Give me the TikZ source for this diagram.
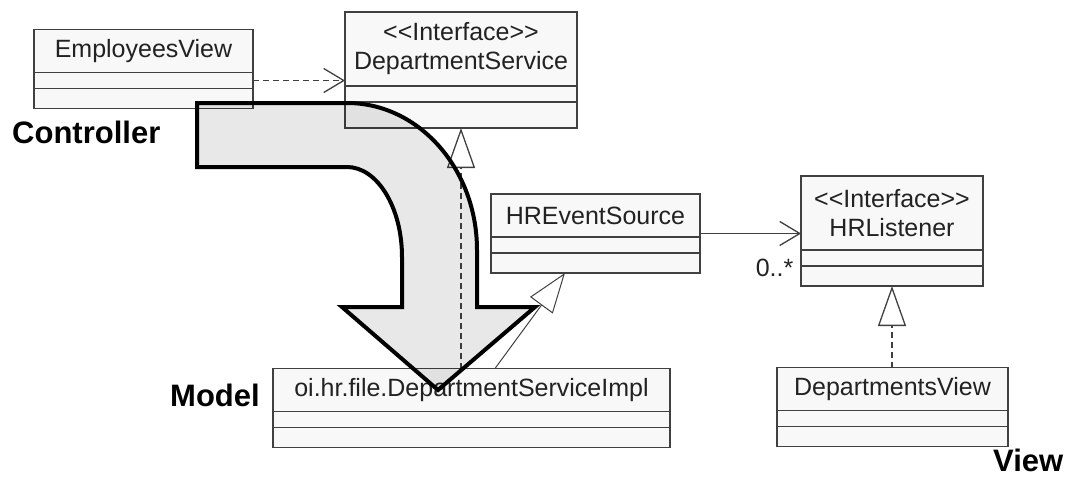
\documentclass[tikz,border=0pt]{standalone}
\usepackage{fontspec}
\setmainfont{Liberation Sans}
\usetikzlibrary{positioning, arrows.meta}

\definecolor{boxline}{HTML}{404040}
\definecolor{boxfill}{HTML}{F8F8F8}
\definecolor{umltext}{HTML}{222222}

\newcommand{\umlfont}{\fontsize{25}{29}\selectfont\color{umltext}}
\newcommand{\tierfont}{\fontsize{31}{36}\selectfont\bfseries}
\newcommand{\stereo}[1]{<{}<#1>{}>}

\begin{document}
\begin{tikzpicture}[
  x=1pt, y=-1pt,
  node distance=0pt,
  cls/.style={draw=boxline, fill=boxfill, line width=1.3pt, inner sep=0pt, outer sep=0pt, minimum height=43pt, align=center, font=\umlfont},
  iface/.style={cls, minimum height=74pt},
  attrs/.style={draw=boxline, fill=boxfill, line width=1.3pt, inner sep=0pt, outer sep=0pt, minimum height=16pt},
  ops/.style={attrs, minimum height=20pt},
  tier/.style={anchor=base west, inner sep=0pt, font=\tierfont},
  depends/.style={-{Straight Barb[length=20pt, width=24pt]}, dash pattern=on 6pt off 4pt, line width=1.3pt, draw=boxline},
  assoc/.style={-{Straight Barb[length=20pt, width=24pt]}, line width=1.3pt, draw=boxline},
  realizes/.style={-{Triangle[open, length=40pt, width=28pt]}, dash pattern=on 6pt off 4pt, line width=1.3pt, draw=boxline},
  inherits/.style={-{Triangle[open, length=40pt, width=28pt]}, line width=1pt, draw=boxline}
]
\useasboundingbox (0,0) rectangle (1066,477);

% Classes (name, attributes, operations)
\node[cls, minimum width=219pt] (emp) at (143.5,51) {EmployeesView};
\node[attrs, minimum width=219pt, below=of emp] (emp-attr) {};
\node[ops, minimum width=219pt, below=of emp-attr] (emp-ops) {};

\node[iface, minimum width=232pt] (dep) at (461,49) {\stereo{Interface}\\DepartmentService};
\node[attrs, minimum width=232pt, below=of dep] (dep-attr) {};
\node[ops, minimum width=232pt, minimum height=26pt, below=of dep-attr] (dep-ops) {};

\node[cls, minimum width=209pt] (hres) at (595.5,215.5) {HREventSource};
\node[attrs, minimum width=209pt, below=of hres] (hres-attr) {};
\node[ops, minimum width=209pt, below=of hres-attr] (hres-ops) {};

\node[iface, minimum width=182pt] (hrl) at (892,213) {\stereo{Interface}\\HRListener};
\node[attrs, minimum width=182pt, below=of hrl] (hrl-attr) {};
\node[ops, minimum width=182pt, below=of hrl-attr] (hrl-ops) {};

\node[cls, minimum width=397pt] (impl) at (471.5,390) {oi.hr.file.DepartmentServiceImpl};
\node[attrs, minimum width=397pt, below=of impl] (impl-attr) {};
\node[ops, minimum width=397pt, below=of impl-attr] (impl-ops) {};

\node[cls, minimum width=231pt] (dview) at (892.5,389) {DepartmentsView};
\node[attrs, minimum width=231pt, below=of dview] (dview-attr) {};
\node[ops, minimum width=231pt, below=of dview-attr] (dview-ops) {};

% Relations
\draw[depends] (emp-attr.east) -- (emp-attr.east -| dep.west);
\draw[realizes] (dep-ops.south |- impl.north) -- (dep-ops.south);
\draw[inherits] ([xshift=222pt]impl.north west) -- ([xshift=74pt]hres-ops.south west);
\draw[assoc] ([yshift=-18pt]hres.east) -- ([yshift=-18pt]hres.east -| hrl.west)
  node[pos=1, anchor=base east, xshift=-7pt, yshift=-43pt, inner sep=0pt, font=\umlfont] {0..*};
\draw[realizes] (hrl-ops.south |- dview.north) -- (hrl-ops.south);

% Tiers
\node[tier] (ctrl) at (12,143) {Controller};
\node[tier] (model) at (170,406) {Model};
\node[tier] (view) at (993,471) {View};

% Big bent arrow from controller down to model
\draw[line width=4pt, line join=miter, fill=black, fill opacity=0.09]
  (197,103) -- (347,103) .. controls (419,103) and (477,169) .. (477,250)
  -- (477,307) -- (535,307) -- (438,390) -- (342,307) -- (402,307) -- (402,257)
  .. controls (402,207) and (377,167) .. (347,167) -- (197,167) -- cycle;

\end{tikzpicture}
\end{document}
